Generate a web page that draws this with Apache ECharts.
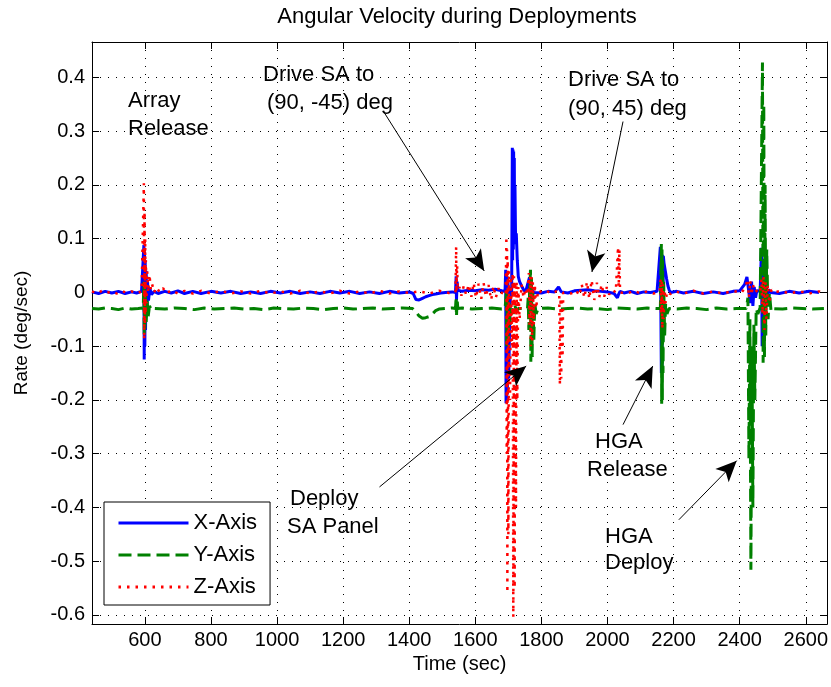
<!DOCTYPE html>
<html>
<head>
<meta charset="utf-8">
<script src="https://cdn.jsdelivr.net/npm/echarts@6/dist/echarts.min.js"></script>
<style>html,body{margin:0;padding:0;background:#fff}#c{width:831px;height:687px}</style>
</head>
<body>
<div id="c"></div>
<script>
// ---- tick labels ----
const xTicks = [600, 800, 1000, 1200, 1400, 1600, 1800, 2000, 2200, 2400, 2600];
const yTicks = [-0.6, -0.5, -0.4, -0.3, -0.2, -0.1, 0, 0.1, 0.2, 0.3, 0.4];
const seriesNames = ['X-Axis', 'Y-Axis', 'Z-Axis'];

// ---- X-Axis rate (deg/sec) ----
const tX = [440,460,480,500,520,540,560,575,590,595,597,598,599,600,601,602,604,606,608,611,615,620,628,640,660,680,700,720,745,770,800,830,860,890,920,950,980,1010,1040,1070,1100,1130,1160,1190,1220,1250,1280,1310,1340,1370,1400,1412,1420,1430,1440,1450,1460,1470,1480,1495,1510,1530,1540,1542,1543,1545,1547,1552,1560,1580,1600,1620,1640,1660,1680,1690,1692,1693,1694,1695,1696,1697,1699,1701,1704,1707,1710,1712,1713,1714,1715,1716,1717,1718,1719,1720,1722,1724,1727,1730,1734,1740,1746,1752,1758,1764,1766,1768,1770,1773,1776,1782,1800,1820,1840,1852,1855,1860,1864,1880,1900,1920,1940,1960,1980,2000,2020,2030,2034,2038,2050,2070,2090,2110,2130,2150,2160,2163,2164,2165,2166,2167,2169,2171,2175,2179,2183,2187,2191,2195,2210,2230,2260,2290,2320,2350,2380,2400,2415,2422,2427,2432,2436,2440,2444,2448,2452,2456,2462,2466,2468,2470,2472,2474,2477,2480,2484,2488,2494,2500,2520,2550,2580,2610,2640,2655];
const vX = [0.001,-0.002,0.002,-0.001,0.002,-0.002,0.001,-0.001,0.002,0.000,0.088,-0.125,0.075,-0.100,0.060,-0.070,0.040,-0.035,0.020,-0.015,0.008,-0.004,0.002,-0.002,0.002,-0.001,0.003,-0.002,0.002,-0.002,0.002,-0.001,0.002,-0.002,0.001,-0.002,0.002,-0.001,0.002,-0.002,0.001,-0.002,0.002,-0.001,0.002,-0.002,0.001,-0.002,0.002,-0.001,0.001,-0.002,-0.013,-0.014,-0.011,-0.008,-0.006,-0.004,-0.003,-0.001,0.000,0.001,0.000,0.030,-0.015,0.020,0.004,0.006,0.002,0.004,0.003,0.005,0.004,0.006,0.003,0.002,0.042,-0.206,0.035,-0.200,0.030,-0.190,0.020,-0.160,-0.060,0.010,0.000,0.269,0.060,0.266,0.080,0.262,0.090,0.250,0.100,0.200,0.090,0.110,0.060,0.030,0.020,0.012,0.005,0.001,0.002,0.028,-0.020,0.020,-0.010,0.005,0.000,0.002,-0.001,0.002,0.001,0.010,0.008,0.001,0.002,-0.001,0.003,0.004,0.005,0.003,0.002,0.001,-0.002,-0.010,-0.003,0.002,-0.001,0.002,-0.002,0.001,0.000,0.002,0.085,-0.150,0.070,-0.140,0.070,-0.090,0.068,0.055,0.040,0.025,0.012,0.004,0.000,-0.002,0.002,-0.001,0.002,-0.002,0.001,-0.002,0.002,0.003,0.015,0.029,0.026,-0.020,0.020,-0.025,0.010,-0.010,0.003,0.000,0.002,0.083,-0.100,0.060,-0.085,0.040,-0.050,0.020,-0.010,0.005,0.000,0.002,-0.002,0.002,-0.001,0.002,0.000];

// ---- Y-Axis rate (deg/sec) ----
const tY = [440,460,480,500,520,540,560,580,595,597,598,599,600,602,604,607,610,614,620,630,660,690,720,750,780,810,840,870,900,930,960,990,1020,1050,1080,1110,1140,1170,1200,1230,1260,1290,1320,1350,1380,1410,1420,1430,1440,1450,1460,1470,1480,1490,1510,1530,1540,1542,1543,1545,1547,1560,1590,1620,1650,1680,1690,1694,1695,1697,1699,1702,1705,1710,1715,1720,1725,1730,1758,1760,1762,1764,1767,1768,1770,1772,1774,1777,1780,1784,1790,1820,1850,1880,1910,1940,1970,2000,2030,2060,2090,2120,2150,2160,2163,2164,2165,2166,2167,2168,2170,2173,2176,2180,2186,2210,2240,2270,2300,2330,2360,2390,2420,2425,2428,2431,2434,2437,2440,2443,2446,2450,2455,2462,2466,2469,2471,2473,2475,2477,2479,2482,2486,2490,2495,2500,2530,2560,2590,2620,2655];
const vY = [-0.030,-0.031,-0.029,-0.030,-0.032,-0.029,-0.031,-0.030,-0.029,0.020,-0.080,0.010,-0.070,-0.005,-0.055,-0.015,-0.045,-0.025,-0.033,-0.030,-0.031,-0.029,-0.030,-0.032,-0.029,-0.031,-0.030,-0.029,-0.031,-0.030,-0.032,-0.029,-0.030,-0.031,-0.029,-0.030,-0.032,-0.030,-0.029,-0.031,-0.030,-0.029,-0.031,-0.030,-0.029,-0.030,-0.036,-0.044,-0.048,-0.047,-0.045,-0.040,-0.034,-0.031,-0.030,-0.029,-0.030,-0.008,-0.045,-0.012,-0.030,-0.029,-0.031,-0.030,-0.029,-0.031,-0.030,0.000,-0.100,-0.010,-0.090,-0.020,-0.060,-0.030,-0.040,-0.025,-0.035,-0.030,-0.030,-0.010,-0.070,-0.005,0.042,-0.129,0.030,-0.120,0.000,-0.090,-0.020,-0.040,-0.030,-0.029,-0.031,-0.030,-0.029,-0.031,-0.030,-0.032,-0.029,-0.030,-0.031,-0.029,-0.030,-0.030,0.090,-0.207,0.080,-0.200,0.060,-0.150,0.020,-0.080,-0.020,-0.040,-0.030,-0.031,-0.029,-0.030,-0.032,-0.029,-0.031,-0.030,-0.030,-0.010,-0.310,-0.050,-0.516,-0.100,-0.400,-0.060,-0.200,-0.030,-0.040,-0.028,-0.030,0.428,-0.131,0.350,-0.120,0.200,-0.080,0.080,-0.050,0.000,-0.035,-0.030,-0.031,-0.029,-0.030,-0.031,-0.030];

// ---- Z-Axis rate (deg/sec) ----
const tZ = [440,455,470,485,500,515,530,545,560,575,590,596,597,598,599,600,601,602,603,605,607,610,614,618,622,628,635,645,655,665,680,700,720,745,770,800,830,860,890,920,950,980,1010,1040,1070,1100,1130,1160,1190,1220,1250,1280,1310,1340,1370,1400,1430,1460,1490,1520,1540,1542,1543,1545,1547,1552,1558,1565,1572,1580,1588,1595,1602,1610,1618,1625,1632,1640,1648,1655,1662,1670,1678,1686,1692,1694,1695,1696,1697,1698,1700,1702,1705,1708,1711,1713,1715,1717,1719,1721,1723,1725,1727,1730,1734,1740,1746,1752,1758,1762,1764,1766,1768,1770,1772,1774,1777,1780,1784,1790,1800,1815,1830,1845,1854,1856,1858,1860,1862,1864,1866,1872,1890,1905,1915,1922,1930,1938,1945,1952,1960,1968,1975,1982,1990,1998,2005,2015,2025,2032,2034,2036,2038,2044,2060,2080,2100,2120,2140,2158,2161,2162,2164,2166,2168,2170,2173,2176,2180,2190,2205,2230,2260,2290,2320,2350,2380,2405,2418,2424,2428,2432,2436,2440,2446,2455,2462,2466,2469,2472,2475,2478,2481,2485,2490,2496,2505,2525,2550,2580,2610,2640,2655];
const vZ = [0.002,-0.002,0.003,-0.001,0.002,-0.002,0.003,-0.001,0.002,-0.002,0.002,0.000,0.203,-0.088,0.150,-0.060,0.100,-0.040,0.060,-0.020,0.040,0.000,0.033,0.005,0.015,0.000,0.010,0.000,0.008,-0.002,0.004,-0.002,0.003,-0.002,0.003,-0.002,0.003,-0.002,0.002,-0.002,0.003,-0.002,0.002,-0.002,0.003,-0.002,0.002,-0.002,0.003,-0.002,0.002,-0.002,0.003,-0.002,0.002,-0.001,0.002,-0.002,0.003,-0.001,0.000,0.085,0.000,0.050,0.005,0.010,-0.006,0.012,-0.004,0.015,-0.008,0.018,-0.010,0.016,-0.012,0.018,-0.008,0.014,-0.014,0.012,-0.010,0.008,-0.004,0.006,0.000,0.104,-0.300,0.080,-0.559,0.060,-0.450,0.040,-0.200,0.030,-0.100,0.036,-0.604,0.030,-0.550,0.020,-0.400,0.020,-0.200,0.010,-0.050,0.015,-0.010,0.008,-0.005,0.036,-0.060,0.030,-0.100,0.030,-0.090,0.020,-0.060,0.015,-0.030,0.005,0.000,0.003,-0.002,0.002,0.000,-0.172,-0.010,-0.160,-0.010,-0.120,0.000,0.002,-0.002,0.004,-0.006,0.015,-0.010,0.020,-0.012,0.023,-0.014,0.018,-0.010,0.015,-0.008,0.010,-0.004,0.005,0.000,0.085,0.010,0.080,0.000,0.003,-0.002,0.003,-0.002,0.002,-0.002,0.001,0.025,-0.040,0.020,-0.068,0.015,-0.050,0.005,-0.020,0.002,-0.003,0.002,-0.002,0.003,-0.002,0.002,-0.002,0.003,-0.001,0.010,0.025,-0.010,0.022,-0.005,0.015,0.000,0.005,0.000,0.025,-0.040,0.030,-0.070,0.020,-0.050,0.015,-0.020,0.005,0.000,0.003,-0.002,0.002,-0.002,0.002,0.000];

// ---- annotation arrows (data coords) ----
const arrowFrom = [[1325, 0.334], [2047, 0.318], [1310, -0.362], [2047, -0.246], [2216, -0.423]];
const arrowTo   = [[1627, 0.040], [1953, 0.038], [1754, -0.137], [2137, -0.137], [2391, -0.313]];

function zip(t, v) { return t.map((x, i) => [x, v[i]]); }

const FONT = '"Liberation Sans", Arial, Helvetica, sans-serif';
const chart = echarts.init(document.getElementById('c'), null, {renderer: 'canvas'});

const axisCommon = {
  type: 'value',
  axisLine: {show: true, onZero: false, lineStyle: {color: '#000', width: 1}},
  axisTick: {show: true, inside: true, length: 7, lineStyle: {color: '#000', width: 1}},
};

function txt(text, x, y, align, size) {
  return {type: 'text', x: x, y: y, silent: true, z: 100,
    style: {text: text, fill: '#000', font: (size || 22) + 'px ' + FONT, align: align || 'left', verticalAlign: 'middle'}};
}

const option = {
  animation: false,
  backgroundColor: '#fff',
  grid: {left: 92, top: 42, right: 2, bottom: 63, containLabel: false},
  xAxis: [
    Object.assign({}, axisCommon, {
      position: 'bottom', min: 440, max: 2665,
      name: 'Time (sec)', nameLocation: 'middle', nameGap: 29,
      nameTextStyle: {color: '#000', fontSize: 20, fontFamily: FONT},
      axisTick: Object.assign({}, axisCommon.axisTick, {customValues: xTicks}),
      axisLabel: {customValues: xTicks, color: '#000', fontSize: 20, fontFamily: FONT, margin: 6,
                  formatter: v => String(v)},
      splitLine: {show: true, lineStyle: {color: '#000', width: 1, type: [1, 7]}}
    }),
    Object.assign({}, axisCommon, {
      position: 'top', min: 440, max: 2665,
      axisTick: Object.assign({}, axisCommon.axisTick, {customValues: xTicks}),
      axisLabel: {show: false}, splitLine: {show: false}
    })
  ],
  yAxis: [
    Object.assign({}, axisCommon, {
      position: 'left', min: -0.617, max: 0.466,
      name: 'Rate (deg/sec)', nameLocation: 'middle', nameGap: 61,
      nameTextStyle: {color: '#000', fontSize: 19, fontFamily: FONT},
      axisTick: Object.assign({}, axisCommon.axisTick, {customValues: yTicks}),
      axisLabel: {customValues: yTicks, color: '#000', fontSize: 20, fontFamily: FONT, margin: 7,
                  formatter: v => String(v)},
      splitLine: {show: true, lineStyle: {color: '#000', width: 1, type: [1, 7]}}
    }),
    Object.assign({}, axisCommon, {
      position: 'right', min: -0.617, max: 0.466,
      axisTick: Object.assign({}, axisCommon.axisTick, {customValues: yTicks}),
      axisLabel: {show: false}, splitLine: {show: false}
    })
  ],
  legend: {
    orient: 'vertical', left: 104, top: 502,
    itemWidth: 70, itemHeight: 14, itemGap: 10,
    padding: [10, 13, 7, 13],
    borderColor: '#000', borderWidth: 1, backgroundColor: '#fff',
    textStyle: {color: '#000', fontSize: 22, fontFamily: FONT},
    lineStyle: {width: 3},
    itemStyle: {color: 'rgba(0,0,0,0)', borderWidth: 0, opacity: 0},
    data: seriesNames
  },
  series: [
    {name: seriesNames[0], type: 'line', data: zip(tX, vX), symbol: 'none', showSymbol: false,
     lineStyle: {color: '#0000ff', width: 3, type: 'solid'}, itemStyle: {color: '#0000ff'}, z: 2},
    {name: seriesNames[1], type: 'line', data: zip(tY, vY), symbol: 'none', showSymbol: false,
     lineStyle: {color: '#008000', width: 3, type: [13, 6]}, itemStyle: {color: '#008000'}, z: 3},
    {name: seriesNames[2], type: 'line', data: zip(tZ, vZ), symbol: 'none', showSymbol: false,
     lineStyle: {color: '#ff0000', width: 2.5, type: [2.5, 6]}, itemStyle: {color: '#ff0000'}, z: 4,
     markLine: {
       silent: true, animation: false,
       symbol: ['none', 'arrow'], symbolSize: [14, 21],
       label: {show: false},
       lineStyle: {color: '#000', width: 1, type: 'solid'},
       emphasis: {disabled: true},
       data: arrowFrom.map((p, i) => [{coord: p}, {coord: arrowTo[i]}])
     }}
  ],
  graphic: [
    txt('Angular Velocity during Deployments', 457, 17, 'center', 22),
    txt('Array', 128, 101), txt('Release', 128, 129),
    txt('Drive SA to', 263, 75), txt('(90, -45) deg', 267, 103),
    txt('Drive SA to', 568, 80), txt('(90, 45) deg', 568, 109),
    txt('Deploy', 290, 499), txt('SA Panel', 287, 527),
    txt('HGA', 595, 442), txt('Release', 587, 470),
    txt('HGA', 605, 537), txt('Deploy', 605, 563)
  ]
};
chart.setOption(option);
</script>
</body>
</html>
